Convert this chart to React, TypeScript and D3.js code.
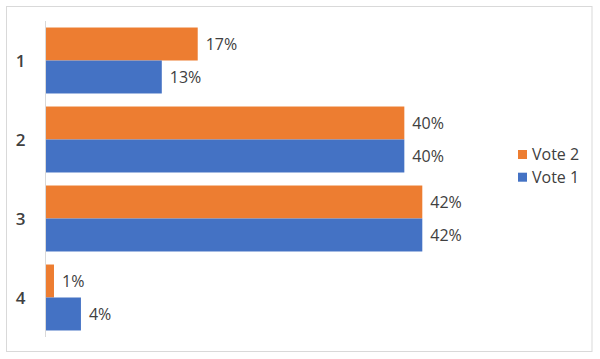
import React from "react";
import * as d3 from "d3";

const categories = ["1", "2", "3", "4"];
const seriesNames = ["Vote 2", "Vote 1"];
const vote2 = [17, 40, 42, 1];
const vote1 = [13, 40, 42, 4];
const seriesColors = ["#ED7D31", "#4472C4"];

const W = 600;
const H = 359;

export default function App() {
  const y = d3.scaleBand<string>().domain(categories).range([21, 337]).paddingInner(0.165).paddingOuter(0.0825);
  const inner = d3.scaleBand<string>().domain(seriesNames).range([0, y.bandwidth()]);
  const x = d3.scaleLinear().domain([0, 42]).range([45, 422.3]);
  const seriesValues = [vote2, vote1];
  const font = "'Open Sans', 'Liberation Sans', sans-serif";

  return (
    <svg width={W} height={H} style={{ position: "absolute", left: 0, top: 0, background: "#fff" }} fontFamily={font}>
      <rect x={6.5} y={6.5} width={585.5} height={345} fill="#fff" stroke="#D9D9D9" strokeWidth={1} />
      {categories.map((c, ci) => (
        <g key={c}>
          {seriesNames.map((s, si) => {
            const v = seriesValues[si][ci];
            const by = (y(c) as number) + (inner(s) as number);
            const bh = inner.bandwidth();
            return (
              <g key={s}>
                <rect x={x(0)} y={by} width={x(v) - x(0)} height={bh} fill={seriesColors[si]} />
                <text x={x(v) + 8} y={by + bh / 2} dy="0.36em" fontSize={16} fill="#404040">
                  {v}%
                </text>
              </g>
            );
          })}
          <text x={20.5} y={(y(c) as number) + y.bandwidth() / 2} dy="0.36em" textAnchor="middle" fontSize={17} fontWeight={600} fill="#404040">
            {c}
          </text>
        </g>
      ))}
      <line x1={45.5} x2={45.5} y1={21} y2={337} stroke="#D9D9D9" strokeWidth={1} />
      {seriesNames.map((s, i) => (
        <g key={s} transform={`translate(518, ${150 + i * 22.7})`}>
          <rect x={0} y={0} width={9} height={9} fill={seriesColors[i]} />
          <text x={14} y={4.5} dy="0.36em" fontSize={16} fill="#404040">
            {s}
          </text>
        </g>
      ))}
    </svg>
  );
}
